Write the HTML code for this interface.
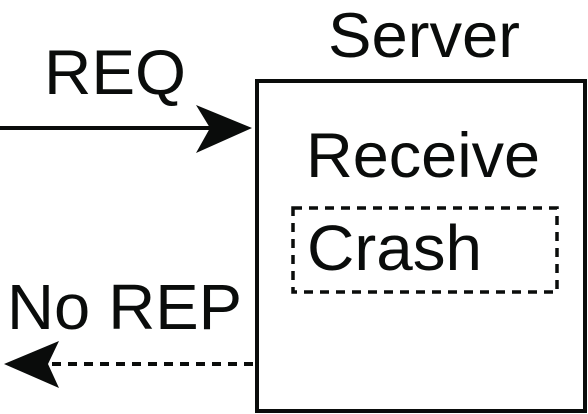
<!DOCTYPE html>
<html><head><style>
html,body{margin:0;padding:0;background:#fff;}
svg{display:block}
text{font-family:"Liberation Sans",Arial,sans-serif;fill:#0a0c0b;}
</style></head><body>
<svg width="588" height="414" viewBox="0 0 588 414">
<rect x="257" y="81" width="328" height="330" fill="none" stroke="#0a0c0b" stroke-width="4"/>
<rect x="293" y="208" width="264" height="84" fill="none" stroke="#0a0c0b" stroke-width="3.5" stroke-dasharray="9,7"/>
<line x1="0" y1="128" x2="210" y2="128" stroke="#0a0c0b" stroke-width="4"/>
<polygon points="252,128 196,105 210,128 196,153" fill="#0a0c0b"/>
<line x1="52" y1="364" x2="255" y2="364" stroke="#0a0c0b" stroke-width="4" stroke-dasharray="9,7"/>
<polygon points="4,364 59,341 48,364 59,388" fill="#0a0c0b"/>
<text x="328" y="57" font-size="63" textLength="192" lengthAdjust="spacingAndGlyphs">Server</text>
<text x="306" y="177" font-size="63" textLength="234" lengthAdjust="spacingAndGlyphs">Receive</text>
<text x="307" y="270" font-size="64" textLength="175" lengthAdjust="spacingAndGlyphs">Crash</text>
<text x="44" y="94" font-size="63" textLength="142" lengthAdjust="spacingAndGlyphs">REQ</text>
<text x="7" y="329" font-size="64" textLength="235" lengthAdjust="spacingAndGlyphs">No REP</text>
</svg>
</body></html>
